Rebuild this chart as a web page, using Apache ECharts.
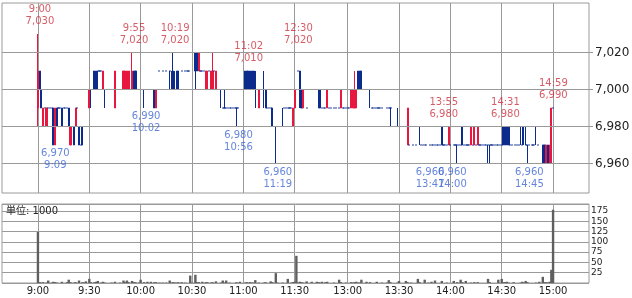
<!DOCTYPE html>
<html><head><meta charset="utf-8">
<script src="https://cdn.jsdelivr.net/npm/echarts@6/dist/echarts.min.js"></script>
<style>html,body{margin:0;padding:0;background:#fff}#c{width:632px;height:298px}</style>
</head><body><div id="c"></div>
<script>
// x-axis tick labels (trading-session times)
const timeLabels = ['9:00','9:30','10:00','10:30','11:00','11:30','13:00','13:30','14:00','14:30','15:00'];
// price grid / axis labels
const priceTicks = [6960, 6980, 7000, 7020];
// per-minute candles [open, close, low, high]; a single number = trade-less / single-price minute
// morning 9:00 - 11:30
const amCandles = [
 [6990,7010,6980,7030],[7010,7000,7000,7010],[7000,6990,6990,7000],[6980,6990,6980,6990],6990,[6980,6990,6980,6990],6990,6990,6990,[6990,6970,6970,6990],
 [6970,6990,6970,6990],[6990,6980,6980,6990],6990,6990,[6990,6980,6980,6990],6990,6990,6990,[6990,6980,6980,6990],[6970,6980,6970,6980],
 6980,[6980,6970,6970,6980],[6980,6990,6980,6990],6990,[6980,6970,6970,6980],6970,[6980,6970,6970,6980],6980,7000,7000,
 [6990,7000,6990,7000],[7000,7000,6990,7000],7000,[7010,7000,7000,7010],[7010,7000,7000,7010],[7010,7010,7000,7010],7010,7010,[7000,7010,7000,7010],[7000,7000,6990,7000],
 7000,7000,7000,7000,7000,[6990,7010,6990,7010],7000,7000,7000,7000,
 [7000,7010,7000,7010],[7000,7010,7000,7010],[7000,7010,7000,7010],[7000,7010,7000,7010],7000,[7000,7010,7000,7020],[7010,7000,7000,7010],[7010,7000,7000,7010],7000,7000,
 7000,7000,[7000,7000,6990,7000],7000,7000,7000,7000,7000,[7000,6990,6990,7000],[6990,7000,6990,7000],
 7000,7010,7000,7010,7000,7010,7000,[7010,7010,7000,7010],[7000,7000,7000,7010],[7010,7000,7000,7020],
 [7000,7000,7000,7010],[7010,7000,7000,7010],[7010,7000,7000,7010],7000,7010,7000,7010,7010,7010,7020,
 7020,7020,[7020,7010,7000,7020],[7020,7010,7010,7020],[7010,7020,7010,7020],7010,7010,7010,[7000,7010,7000,7010],[7000,7010,7000,7010],
 7010,[7000,7010,7000,7010],[7000,7010,7000,7020],7010,[7000,7010,7000,7010],7000,7000,[7000,7000,6990,7000],6990,[6990,6990,6990,7000],
 6990,6990,6990,6990,6990,6990,[6990,6990,6980,6990],6990,7000,7000,
 7000,[7010,7000,7000,7010],[7010,7000,7000,7010],[7010,7000,7000,7010],[7010,7000,7000,7010],[7010,7000,7000,7010],[7010,7000,7000,7010],[7000,7000,6990,7010],7000,[6990,7000,6990,7000],
 7000,7000,[7000,7000,6990,7010],[7000,6990,6990,7000],6990,6990,6990,[6990,6980,6980,6990],6980,[6980,6980,6960,6980],
 6980,6980,6980,[6980,6980,6980,6990],6990,6990,6990,6990,6990,[6980,6990,6980,6990],
 [6990,7000,6990,7000]
];
// afternoon 12:30 - 15:00
const pmCandles = [
 7020,7010,[7010,7000,6990,7010],[7000,6990,6990,7000],[6990,7000,6990,7000],7000,6990,7000,7000,7000,
 7000,7000,7000,[7000,6990,6990,7000],[7000,6990,6990,7000],6990,6990,6990,[6990,7000,6990,7000],6990,
 6990,7000,6990,6990,7000,6990,[6990,7000,6990,7000],6990,6990,6990,
 6990,6990,[6990,7000,6990,7000],[6990,7000,6990,7000],[6990,7000,6990,7010],[6990,7000,6990,7000],[7010,7000,7000,7010],[7010,7000,7000,7010],[7010,7000,7000,7010],7000,
 7000,7000,7000,[7000,7000,6990,7000],6990,6990,6990,6990,6990,6990,
 6990,6980,6980,6990,6990,[6990,6990,6980,6990],6980,6980,6980,[6980,6980,6980,6990],
 6980,6980,6980,6980,6980,[6970,6990,6970,6990],6970,6980,6970,6980,
 6970,6980,[6980,6980,6970,6980],6970,6970,6970,6970,6960,6970,6970,
 6970,6970,6970,6970,6970,[6980,6970,6970,6980],6970,6970,6970,[6970,6980,6970,6980],
 6970,6980,6970,6970,[6970,6970,6960,6970],6970,6970,[6980,6970,6970,6980],6970,6970,
 6970,6970,[6970,6980,6970,6980],6970,[6970,6980,6970,6980],6970,[6970,6980,6970,6980],6970,6970,6970,
 6970,6970,[6970,6970,6960,6970],[6970,6970,6960,6970],6970,6970,6970,6970,6970,6970,
 6970,[6980,6970,6970,6980],[6980,6970,6970,6980],[6980,6970,6970,6980],[6980,6970,6970,6980],6970,6970,6980,6970,6970,
 6970,[6980,6980,6970,6980],[6970,6970,6970,6980],[6980,6980,6970,6980],[6970,6970,6970,6980],[6970,6970,6960,6970],6970,6980,6970,6970,
 [6980,6980,6970,6980],6970,6960,6960,[6970,6960,6960,6970],[6970,6960,6960,6970],[6960,6970,6960,6970],[6970,6960,6960,6970],[6960,6970,6960,6970],[6960,6990,6960,6990],
 6990
];
// per-minute volume (unit: 1000 shares)
const amVolume = [
 124,2,1,2,0,1,6,0,1,3,
 2,1,0,0,3,0,0,2,8,2,
 0,1,2,0,6,0,2,1,4,0,
 10,2,0,2,3,5,0,1,3,1,
 0,0,0,1,0,3,0,0,1,0,
 6,2,6,2,0,5,2,2,0,1,
 8,0,2,0,3,0,3,0,2,2,
 0,1,0,1,0,1,0,6,1,2,
 1,1,2,0,2,0,1,0,0,18,
 1,0,20,2,2,0,3,0,2,2,
 0,1,2,0,4,0,0,1,6,1,
 6,0,1,0,0,0,2,0,3,0,
 0,1,2,1,2,1,1,7,0,1,
 0,0,1,2,0,0,4,2,0,24,
 1,0,0,1,0,0,10,0,1,2,
 3
];
const pmVolume = [
 66,1,3,2,1,0,4,0,0,3,
 0,0,3,2,1,3,0,2,3,0,
 0,0,1,0,0,8,2,0,0,1,
 0,0,2,1,2,3,1,1,8,0,
 0,3,0,2,0,0,0,3,0,0,
 1,0,0,1,7,2,0,0,0,1,
 5,0,0,0,5,2,0,1,0,0,
 0,10,2,0,0,8,0,1,0,3,
 0,6,0,0,0,5,0,0,1,0,
 0,0,5,0,2,0,8,2,0,5,
 0,0,1,0,2,0,2,0,0,0,
 0,0,10,2,0,0,0,0,8,0,
 10,2,2,3,1,0,0,2,0,0,
 0,1,3,1,5,2,0,0,0,0,
 1,0,3,0,15,2,2,1,3,32,
 178
];
// annotated highs / lows [time, price]
const highMarks = [['9:00',7030],['9:55',7020],['10:19',7020],['11:02',7010],['12:30',7020],['13:55',6980],['14:31',6980],['14:59',6990]];
const lowMarks = [['9:09',6970],['10:02',6990],['10:56',6980],['11:19',6960],['13:47',6960],['14:00',6960],['14:45',6960]];

const PAD = 21;
const SLOTS = amCandles.length + pmCandles.length;
const N = SLOTS + 2 * PAD;
function slotTime(s){
  const m = s <= 150 ? 540 + s : 750 + (s - 151);
  return Math.floor(m / 60) + ':' + String(m % 60).padStart(2, '0');
}
const categories = [];
for (let i = 0; i < N; i++) { const s = i - PAD; categories.push(s >= 0 && s < SLOTS ? slotTime(s) : 'pad' + i); }
const idxOf = t => categories.indexOf(t);
const fmt = v => Number(v).toLocaleString('en-US');

const RED = '#e8173f', NAVY = '#0b2c8c', RED_TXT = '#cc3340', BLUE_TXT = '#3f66d4', GRID = '#9a9a9a';
const candleData = amCandles.concat(pmCandles).map((c, k) => {
  const v = Array.isArray(c) ? c : [c, c, c, c];
  const item = { value: [k + PAD, v[0], v[1], v[2], v[3]] };
  if (v[0] === v[1]) item.itemStyle = { color: NAVY, color0: NAVY, borderColor: NAVY, borderColor0: NAVY, borderColorDoji: NAVY };
  return item;
});
const volData = amVolume.concat(pmVolume).map((v, k) => [k + PAD, v]);
const showTime = (i, v) => timeLabels.indexOf(v) >= 0;

const chart = echarts.init(document.getElementById('c'), null, { renderer: 'canvas' });
chart.setOption({
  animation: false,
  backgroundColor: '#fff',
  textStyle: { fontFamily: 'DejaVu Sans' },
  grid: [
    { left: 2, top: 3, width: 587, height: 190, show: true, borderColor: GRID, borderWidth: 1, backgroundColor: 'transparent', outerBoundsMode: 'none', containLabel: false },
    { left: 2, top: 204, width: 587, height: 79, show: true, borderColor: GRID, borderWidth: 1, backgroundColor: 'transparent', outerBoundsMode: 'none', containLabel: false },
    { left: 2, top: 3, width: 591, height: 190, show: false, outerBoundsMode: 'none', containLabel: false }
  ],
  xAxis: [
    { type: 'category', gridIndex: 0, data: categories, boundaryGap: false,
      axisLine: { show: false }, axisTick: { show: false }, axisLabel: { show: false },
      splitLine: { show: true, interval: showTime, lineStyle: { color: GRID, width: 1 } } },
    { type: 'category', gridIndex: 1, data: categories, boundaryGap: false,
      axisLine: { show: false }, axisTick: { show: false },
      axisLabel: { show: true, interval: showTime, fontSize: 10, color: '#222', margin: 3 },
      splitLine: { show: true, interval: showTime, lineStyle: { color: GRID, width: 1 } } },
    { type: 'value', gridIndex: 2, min: 0, max: 1, show: false }
  ],
  yAxis: [
    { type: 'value', gridIndex: 0, min: 6944.05, max: 7046.76, show: false, splitLine: { show: false } },
    { type: 'value', gridIndex: 1, position: 'right', min: 0, max: 192, interval: 25,
      axisLine: { show: false }, axisTick: { show: false },
      axisLabel: { fontSize: 9, color: '#222', margin: 2, showMinLabel: false, showMaxLabel: false },
      splitLine: { show: true, lineStyle: { color: GRID, width: 1 } } },
    { type: 'value', gridIndex: 2, min: 6944.05, max: 7046.76, show: false, splitLine: { show: false } }
  ],
  graphic: [
    { type: 'text', left: 6, top: 206, z: 10, silent: true,
      style: { text: '単位: 1000', font: '10px "DejaVu Sans", "Noto Sans CJK JP"', fill: '#222' } }
  ],
  series: [
    { type: 'line', xAxisIndex: 2, yAxisIndex: 2, data: [], z: 1, silent: true,
      markLine: { silent: true, symbol: ['none', 'none'], animation: false,
        lineStyle: { color: GRID, width: 1, type: 'solid' },
        emphasis: { disabled: true },
        label: { show: true, position: 'end', distance: 2, fontSize: 12, color: '#222', fontFamily: 'DejaVu Sans',
          formatter: p => fmt(p.value) },
        data: priceTicks.map(v => ({ yAxis: v })) } },
    { type: 'candlestick', xAxisIndex: 0, yAxisIndex: 0, z: 3, silent: true, barWidth: 1.6,
      encode: { x: 0, y: [1, 2, 3, 4] },
      data: candleData,
      itemStyle: { color: RED, color0: NAVY, borderColor: RED, borderColor0: NAVY, borderColorDoji: NAVY, borderWidth: 1 } },
    { type: 'bar', xAxisIndex: 1, yAxisIndex: 1, z: 3, silent: true, barWidth: 2.4,
      data: volData, itemStyle: { color: '#5f5f5f' } },
    { type: 'scatter', xAxisIndex: 0, yAxisIndex: 0, z: 5, silent: true, symbolSize: 1,
      itemStyle: { color: 'rgba(0,0,0,0)' },
      data: highMarks.map(m => [idxOf(m[0]), m[1]]),
      label: { show: true, position: 'top', distance: 6, offset: [2, 0], fontSize: 10, lineHeight: 12, color: RED_TXT,
        formatter: p => highMarks[p.dataIndex][0] + '\n' + fmt(highMarks[p.dataIndex][1]) } },
    { type: 'scatter', xAxisIndex: 0, yAxisIndex: 0, z: 5, silent: true, symbolSize: 1,
      itemStyle: { color: 'rgba(0,0,0,0)' },
      data: lowMarks.map(m => [idxOf(m[0]), m[1]]),
      label: { show: true, position: 'bottom', distance: 2, offset: [2, 0], fontSize: 10, lineHeight: 12, color: BLUE_TXT,
        formatter: p => fmt(lowMarks[p.dataIndex][1]) + '\n' + lowMarks[p.dataIndex][0] } }
  ]
});
</script></body></html>
